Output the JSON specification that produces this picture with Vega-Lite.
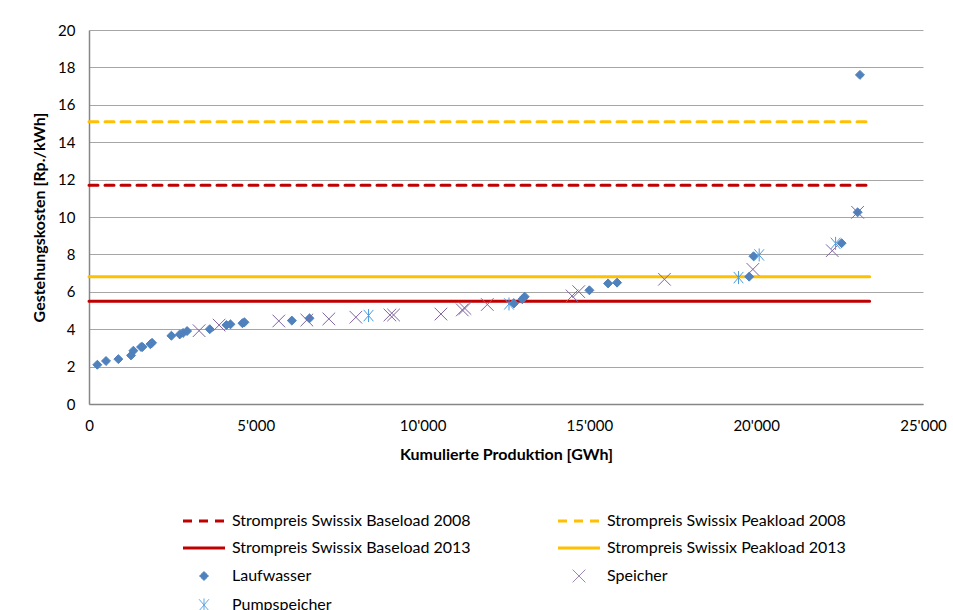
{
  "$schema": "https://vega.github.io/schema/vega-lite/v6.json",
  "width": 834,
  "height": 374,
  "autosize": {"type": "none"},
  "padding": {"left": 89, "top": 30, "right": 30, "bottom": 206},
  "background": "white",
  "config": {
    "view": {"stroke": null},
    "font": "Lato",
    "axis": {
      "labelFont": "Lato",
      "labelFontSize": 15,
      "labelColor": "#000000",
      "labelOverlap": false,
      "labelFlush": false,
      "titleFont": "Lato",
      "titleFontSize": 16,
      "titleFontWeight": "bold",
      "titleColor": "#000000",
      "domainColor": "#868686",
      "domainWidth": 1.5,
      "gridColor": "#A6A6A6",
      "gridWidth": 1,
      "ticks": false
    },
    "legend": {
      "title": null, "orient": "none", "legendX": 107, "legendY": 483, "direction": "horizontal",
      "columns": 2, "columnPadding": 81, "rowPadding": 11,
      "symbolSize": 1764, "symbolStrokeWidth": 3, "labelFontSize": 16, "labelFont": "Lato",
      "labelColor": "#000000", "labelOffset": 20, "labelLimit": 400, "symbolLimit": 0
    }
  },
  "datasets": {
    "lines": [
      {"series": "Strompreis Swissix Baseload 2008", "y": 11.7, "x0": 0, "x1": 23400},
      {"series": "Strompreis Swissix Peakload 2008", "y": 15.1, "x0": 0, "x1": 23400},
      {"series": "Strompreis Swissix Baseload 2013", "y": 5.5, "x0": 0, "x1": 23400},
      {"series": "Strompreis Swissix Peakload 2013", "y": 6.8, "x0": 0, "x1": 23400}
    ],
    "points": [
      {"series": "Laufwasser", "x": 250, "y": 2.1},
      {"series": "Laufwasser", "x": 510, "y": 2.3},
      {"series": "Laufwasser", "x": 880, "y": 2.4},
      {"series": "Laufwasser", "x": 1260, "y": 2.6},
      {"series": "Laufwasser", "x": 1330, "y": 2.85},
      {"series": "Laufwasser", "x": 1560, "y": 3.05},
      {"series": "Laufwasser", "x": 1600, "y": 3.05},
      {"series": "Laufwasser", "x": 1840, "y": 3.2},
      {"series": "Laufwasser", "x": 1890, "y": 3.27},
      {"series": "Laufwasser", "x": 2470, "y": 3.65},
      {"series": "Laufwasser", "x": 2720, "y": 3.72},
      {"series": "Laufwasser", "x": 2820, "y": 3.8},
      {"series": "Laufwasser", "x": 2940, "y": 3.9},
      {"series": "Laufwasser", "x": 3620, "y": 4.0},
      {"series": "Laufwasser", "x": 4120, "y": 4.22},
      {"series": "Laufwasser", "x": 4240, "y": 4.26},
      {"series": "Laufwasser", "x": 4600, "y": 4.32},
      {"series": "Laufwasser", "x": 4660, "y": 4.37},
      {"series": "Laufwasser", "x": 6080, "y": 4.46},
      {"series": "Laufwasser", "x": 6610, "y": 4.58},
      {"series": "Laufwasser", "x": 12740, "y": 5.38},
      {"series": "Laufwasser", "x": 12990, "y": 5.6},
      {"series": "Laufwasser", "x": 13060, "y": 5.74},
      {"series": "Laufwasser", "x": 15000, "y": 6.08},
      {"series": "Laufwasser", "x": 15560, "y": 6.45},
      {"series": "Laufwasser", "x": 15830, "y": 6.49},
      {"series": "Laufwasser", "x": 19790, "y": 6.81},
      {"series": "Laufwasser", "x": 19920, "y": 7.9},
      {"series": "Laufwasser", "x": 22560, "y": 8.6},
      {"series": "Laufwasser", "x": 23040, "y": 10.25},
      {"series": "Laufwasser", "x": 23110, "y": 17.6},
      {"series": "Speicher", "x": 3300, "y": 3.92},
      {"series": "Speicher", "x": 3900, "y": 4.22},
      {"series": "Speicher", "x": 5690, "y": 4.44},
      {"series": "Speicher", "x": 6530, "y": 4.49},
      {"series": "Speicher", "x": 7190, "y": 4.55},
      {"series": "Speicher", "x": 8000, "y": 4.64},
      {"series": "Speicher", "x": 9020, "y": 4.76},
      {"series": "Speicher", "x": 9130, "y": 4.76},
      {"series": "Speicher", "x": 10550, "y": 4.81},
      {"series": "Speicher", "x": 11190, "y": 5.03},
      {"series": "Speicher", "x": 11270, "y": 5.11},
      {"series": "Speicher", "x": 11940, "y": 5.32},
      {"series": "Speicher", "x": 14480, "y": 5.78},
      {"series": "Speicher", "x": 14680, "y": 6.01},
      {"series": "Speicher", "x": 17250, "y": 6.67},
      {"series": "Speicher", "x": 19900, "y": 7.2},
      {"series": "Speicher", "x": 22280, "y": 8.2},
      {"series": "Speicher", "x": 23040, "y": 10.25},
      {"series": "Pumpspeicher", "x": 8380, "y": 4.73},
      {"series": "Pumpspeicher", "x": 12590, "y": 5.35},
      {"series": "Pumpspeicher", "x": 19470, "y": 6.76},
      {"series": "Pumpspeicher", "x": 20090, "y": 7.97},
      {"series": "Pumpspeicher", "x": 22380, "y": 8.59}
    ]
  },
  "layer": [
    {
      "data": {"name": "lines"},
      "mark": {"type": "rule", "strokeWidth": 3, "strokeCap": "round"},
      "encoding": {
        "x": {
          "field": "x0", "type": "quantitative",
          "scale": {"domain": [0, 25000], "nice": false},
          "axis": {
            "title": "Kumulierte Produktion [GWh]",
            "values": [0, 5000, 10000, 15000, 20000, 25000],
            "labelExpr": "replace(format(datum.value, ','), ',', \"'\")",
            "grid": false,
            "labelPadding": 14,
            "titlePadding": 13
          }
        },
        "x2": {"field": "x1"},
        "y": {
          "field": "y", "type": "quantitative",
          "scale": {"domain": [0, 20], "nice": false},
          "axis": {
            "title": "Gestehungskosten [Rp./kWh]",
            "values": [0, 2, 4, 6, 8, 10, 12, 14, 16, 18, 20],
            "grid": true,
            "labelPadding": 14,
            "titlePadding": 10
          }
        },
        "color": {
          "field": "series", "type": "nominal",
          "scale": {
            "domain": ["Strompreis Swissix Baseload 2008", "Strompreis Swissix Peakload 2008", "Strompreis Swissix Baseload 2013", "Strompreis Swissix Peakload 2013", "Laufwasser", "Speicher", "Pumpspeicher"],
            "range": ["#C00000", "#FFC000", "#C00000", "#FFC000", "#4F81BD", "#8064A2", "#4A9BE0"]
          },
          "legend": {
            "encode": {
              "symbols": {
                "update": {
                  "fill": {"signal": "datum.value === 'Laufwasser' ? '#4F81BD' : 'transparent'"},
                  "stroke": {"signal": "scale('color', datum.value)"},
                  "strokeWidth": {"signal": "(datum.value === 'Laufwasser' || datum.value === 'Speicher' || datum.value === 'Pumpspeicher') ? 1 : 3"},
                  "opacity": {"value": 1}
                }
              }
            }
          }
        },
        "strokeDash": {
          "field": "series", "type": "nominal",
          "scale": {
            "domain": ["Strompreis Swissix Baseload 2008", "Strompreis Swissix Peakload 2008", "Strompreis Swissix Baseload 2013", "Strompreis Swissix Peakload 2013", "Laufwasser", "Speicher", "Pumpspeicher"],
            "range": [[9, 7], [9, 7], [1, 0], [1, 0], [1, 0], [1, 0], [1, 0]]
          }
        }
      }
    },
    {
      "data": {"name": "points"},
      "mark": {"type": "point", "filled": false, "opacity": 1, "size": 1764, "strokeWidth": 1},
      "encoding": {
        "x": {
          "field": "x", "type": "quantitative",
          "scale": {"domain": [0, 25000], "nice": false},
          "axis": {
            "title": "Kumulierte Produktion [GWh]",
            "values": [0, 5000, 10000, 15000, 20000, 25000],
            "labelExpr": "replace(format(datum.value, ','), ',', \"'\")",
            "grid": false,
            "labelPadding": 14,
            "titlePadding": 13
          }
        },
        "y": {
          "field": "y", "type": "quantitative",
          "scale": {"domain": [0, 20], "nice": false},
          "axis": {
            "title": "Gestehungskosten [Rp./kWh]",
            "values": [0, 2, 4, 6, 8, 10, 12, 14, 16, 18, 20],
            "grid": true,
            "labelPadding": 14,
            "titlePadding": 10
          }
        },
        "color": {"field": "series", "type": "nominal"},
        "fill": {"condition": {"test": "datum.series === 'Laufwasser'", "value": "#4F81BD"}, "value": "transparent"},
        "shape": {
          "field": "series", "type": "nominal",
          "scale": {
            "domain": ["Strompreis Swissix Baseload 2008", "Strompreis Swissix Peakload 2008", "Strompreis Swissix Baseload 2013", "Strompreis Swissix Peakload 2013", "Laufwasser", "Speicher", "Pumpspeicher"],
            "range": ["M-1,0L1,0", "M-1,0L1,0", "M-1,0L1,0", "M-1,0L1,0", "M0,-0.214L0.214,0L0,0.214L-0.214,0Z", "M-0.3,-0.3L0.3,0.3M-0.3,0.3L0.3,-0.3", "M-0.23,-0.27L0.23,0.27M-0.23,0.27L0.23,-0.27M0,-0.31L0,0.31"]
          }
        }
      }
    }
  ]
}
